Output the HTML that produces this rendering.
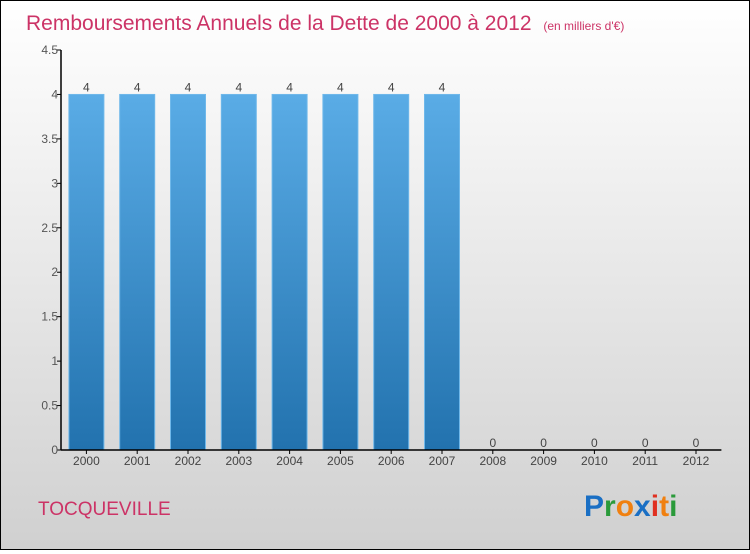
<!DOCTYPE html>
<html><head><meta charset="utf-8"><style>
body{margin:0;width:750px;height:550px;overflow:hidden;font-family:"Liberation Sans",sans-serif}
#frame{position:absolute;left:0;top:0;width:748px;height:548px;border:1px solid #000;background:linear-gradient(#ffffff,#d0d0d0)}
</style></head><body>
<div id="frame">
<svg width="748" height="548" id="svg">
<defs><linearGradient id="bg" x1="0" y1="0" x2="0" y2="1"><stop offset="0" stop-color="#5aace6"/><stop offset="1" stop-color="#2272ae"/></linearGradient></defs>
<text x="25" y="29" font-size="21" fill="#cc3366">Remboursements Annuels de la Dette de 2000 à 2012 <tspan font-size="12" dx="6">(en milliers d'€)</tspan></text>
<text x="37" y="514" font-size="19" fill="#cc3366">TOCQUEVILLE</text>
<g font-size="30" font-weight="bold"><text x="583" y="515"><tspan fill="#1a6fc4">P</tspan><tspan fill="#2a9a3a">r</tspan><tspan fill="#f08010">o</tspan><tspan fill="#1a6fc4">x</tspan><tspan fill="#e03020">i</tspan><tspan fill="#f08010">t</tspan><tspan fill="#2a9a3a">i</tspan></text></g>
<g id="plot"></g>
</svg></div>
<script>
const years=["2000","2001","2002","2003","2004","2005","2006","2007","2008","2009","2010","2011","2012"];
const values=[4,4,4,4,4,4,4,4,0,0,0,0,0];
const yTicks=[0,0.5,1,1.5,2,2.5,3,3.5,4,4.5];
const yTickLabels=["0","0.5","1","1.5","2","2.5","3","3.5","4","4.5"];
const ox=-1,oy=-1;
const x0=61+ox,bw=50.8,yBase=450+oy,yMax=4.5,ph=400;
const y=v=>yBase-v/yMax*ph;
const xc=i=>x0+bw*(i+0.5);
const g=document.getElementById('plot');const ns="http://www.w3.org/2000/svg";
function mk(t,a){const e=document.createElementNS(ns,t);for(const k in a)e.setAttribute(k,a[k]);g.appendChild(e);return e;}
values.forEach((v,i)=>{
 const r=mk('rect',{x:xc(i)-17.5,y:y(v),width:35,height:yBase-y(v),fill:'url(#bg)',stroke:'#6fb8ea','stroke-width':1});
 
 
 const t=mk('text',{x:xc(i),y:y(v)-3,'font-size':12,fill:'#444','text-anchor':'middle'});t.textContent=v;
 
 
 const l=mk('text',{x:xc(i),y:yBase+15,'font-size':12,fill:'#444','text-anchor':'middle'});l.textContent=years[i];
 
 
 mk('line',{x1:xc(i),x2:xc(i),y1:yBase,y2:yBase+4,stroke:'#000'});
});
yTicks.forEach((v,i)=>{
 mk('line',{x1:x0-4,x2:x0,y1:y(v),y2:y(v),stroke:'#000'});
 const t=mk('text',{x:x0-3,y:y(v)+4,'font-size':12,fill:'#555','text-anchor':'end'});t.textContent=yTickLabels[i];
 
 
});
const ya=mk('line',{x1:x0,x2:x0,y1:y(4.5),y2:yBase,stroke:'#000','stroke-width':1.5});


const xa=mk('line',{x1:x0,x2:x0+bw*13,y1:yBase,y2:yBase,stroke:'#000','stroke-width':1.5});


</script>
</body></html>
